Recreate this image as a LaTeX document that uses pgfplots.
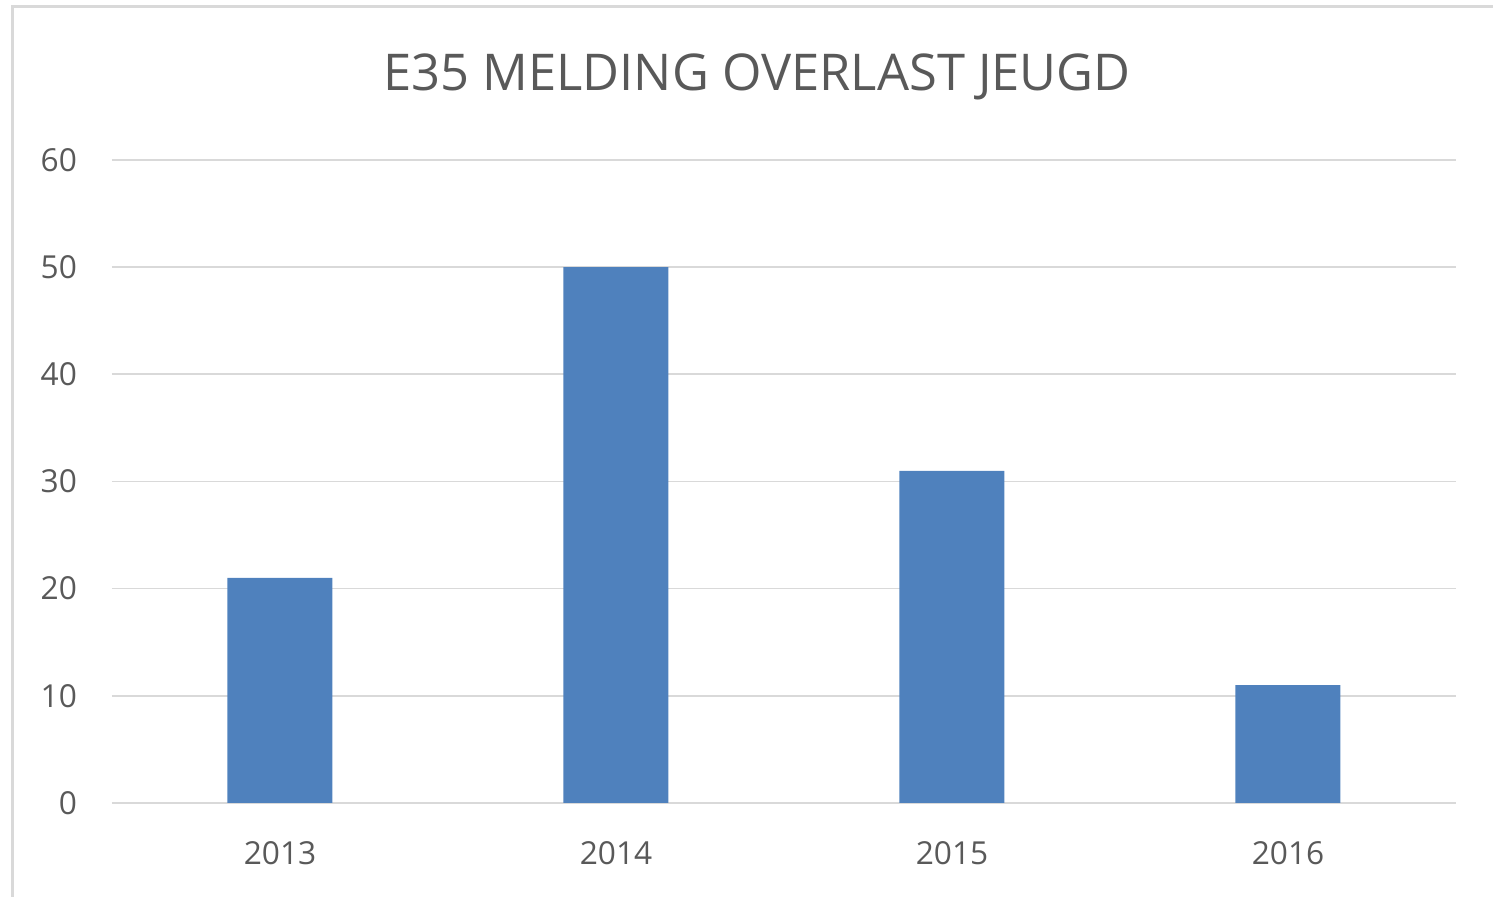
\documentclass[border=0pt]{standalone}
\usepackage{pgfplots}
\pgfplotsset{compat=1.18}
\usepackage{fontspec}
\setmainfont{Open Sans}
\definecolor{barblue}{HTML}{4F81BD}
\definecolor{gridgray}{HTML}{D9D9D9}
\definecolor{txtgray}{HTML}{595959}
\begin{document}
\begin{tikzpicture}
\useasboundingbox (0,0) rectangle (447.9pt,269.1pt);
\draw[gridgray, line width=0.9pt] (3.6pt,0) -- (3.6pt,267pt) -- (447.9pt,267pt);
\node[txtgray, font=\fontsize{15.2}{18}\selectfont] at (227.1pt,246pt) {E35 MELDING OVERLAST JEUGD};
\begin{axis}[
  at={(33.6pt,28.2pt)}, anchor=south west,
  scale only axis, width=403.2pt, height=192.9pt,
  xmin=-0.5, xmax=3.5, ymin=0, ymax=60,
  axis line style={draw=none},
  ymajorgrids, grid style={gridgray, line width=0.5pt},
  ytick={0,10,...,60},
  xtick=data, xticklabels={2013,2014,2015,2016},
  ytick style={draw=none}, xtick style={draw=none},
  tick label style={txtgray, font=\fontsize{9.5}{11}\selectfont},
  /pgf/number format/assume math mode=true,
  yticklabel style={xshift=-7pt},
  xticklabel style={yshift=-8pt},
]
\addplot[ybar, bar width=31.5pt, fill=barblue, draw=none] coordinates {(0,21) (1,50) (2,31) (3,11)};
\end{axis}
\end{tikzpicture}
\end{document}
